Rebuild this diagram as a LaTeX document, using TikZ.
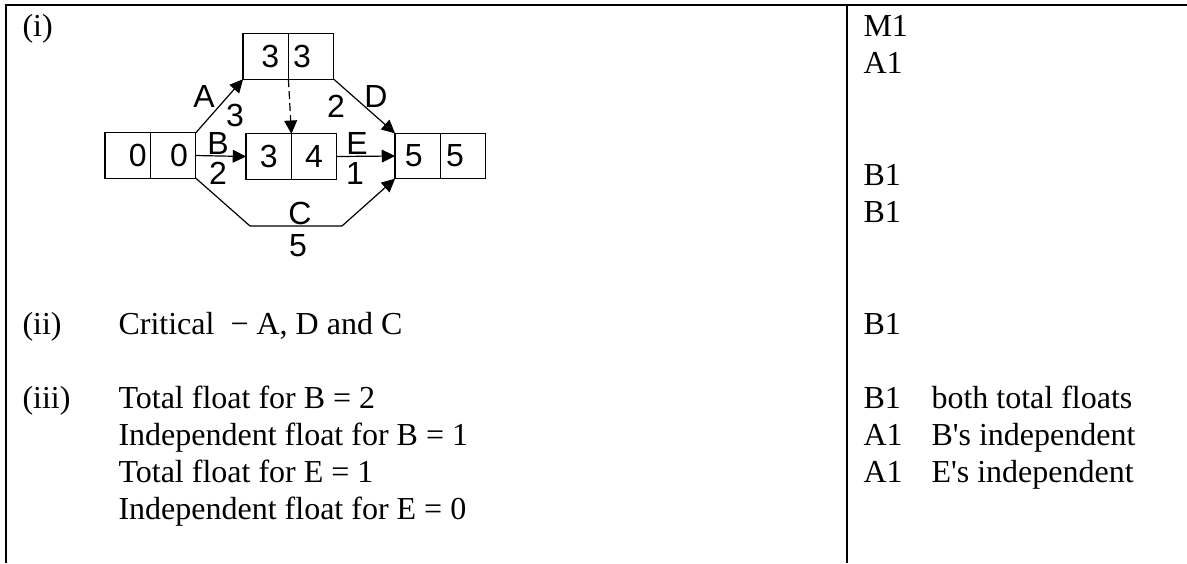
\documentclass[tikz,border=0pt]{standalone}
\usepackage{fontspec}
\setmainfont{Liberation Serif}
\newfontfamily\netfont{Liberation Sans}
\usetikzlibrary{arrows.meta,positioning}

% digit set off-centre in its cell, as in the original
\newcommand{\nudged}[2]{\makebox[0pt]{\hspace{#1}#2}}

\tikzset{
  cell/.style={draw, rectangle, minimum width=17pt, minimum height=17pt, inner sep=0pt, outer sep=0pt, line width=0.45pt, font=\netfont\fontsize{12}{14}\selectfont},
  act/.style={line width=0.45pt, -{Triangle[length=5pt,width=4.8pt]}},
  lbl/.style={inner sep=0pt, font=\netfont\fontsize{12}{14}\selectfont},
  txt/.style={anchor=base west, inner sep=0pt, font=\fontsize{12}{14}\selectfont},
  rule/.style={line width=0.8pt}
}

\begin{document}
\begin{tikzpicture}[x=0.375pt,y=-0.375pt]
  \useasboundingbox (0,0) rectangle (1187,563);

  % table rules
  \draw[rule] (5,5) -- (1187,5);
  \draw[rule] (6,5) -- (6,563);
  \draw[rule] (847,5) -- (847,563);

  % events (earliest | latest)
  \node[cell] (s1) at (127.75,155.5) {\nudged{7.5pt}{0}};
  \node[cell, right=0pt of s1] (s2) {\nudged{4.5pt}{0}};
  \node[cell] (t1) at (265.75,56.5) {\nudged{3.4pt}{3}};
  \node[cell, right=0pt of t1] (t2) {\nudged{-6.8pt}{3}};
  \node[cell] (m1) at (268.75,156.5) {3};
  \node[cell, right=0pt of m1] (m2) {4};
  \node[cell] (f1) at (417.75,156) {\nudged{-3pt}{5}};
  \node[cell, right=0pt of f1] (f2) {\nudged{-6pt}{5}};
  \coordinate (cL) at (250,226);
  \coordinate (cR) at (342,226);

  % activities
  \draw[act] (s2.north east) -- (t1.south west);
  \draw[act] (t2.south east) -- (f1.north west);
  \draw[act, dash pattern=on 3pt off 1.5pt] (t1.south east) -- (m1.north east);
  \draw[act] (s2.east) -- (m1.west);
  \draw[act] (m2.east) -- (f1.west);
  \draw[act] (s2.south east) -- (cL) -- (cR) -- (f1.south west);

  \node[lbl] (labA) at (204,96) {A};
  \node[lbl] (durA) at (235,115) {3};
  \node[lbl] (labD) at (376,96) {D};
  \node[lbl] (durD) at (336,106) {2};
  \node[lbl] (labB) at (218,143) {B};
  \node[lbl] (durB) at (218,173) {2};
  \node[lbl] (labE) at (357,143) {E};
  \node[lbl] (durE) at (355,173) {1};
  \node[lbl] (labC) at (300,213) {C};
  \node[lbl] (durC) at (298,246) {5};

  % answers
  \node[txt] (pi) at (22,36) {(i)};
  \node[txt] (pii) at (22,334) {(ii)};
  \node[txt] (crit) at (118,334) {Critical~~−~A, D and C};
  \node[txt] (piii) at (22,408) {(iii)};
  \node[txt] (tfB) at (118,408) {Total float for B = 2};
  \node[txt] (ifB) at (118,445) {Independent float for B = 1};
  \node[txt] (tfE) at (118,482) {Total float for E = 1};
  \node[txt] (ifE) at (118,519) {Independent float for E = 0};

  % marks
  \node[txt] (mkM) at (863,36) {M1};
  \node[txt] (mkA) at (863,73) {A1};
  \node[txt] (mkB1) at (863,185) {B1};
  \node[txt] (mkB2) at (863,222) {B1};
  \node[txt] (mkB3) at (863,334) {B1};
  \node[txt] (mkB4) at (863,408) {B1};
  \node[txt] (mkA2) at (863,445) {A1};
  \node[txt] (mkA3) at (863,482) {A1};
  \node[txt] (nB4) at (931,408) {both total floats};
  \node[txt] (nA2) at (931,445) {B\textquotesingle s independent};
  \node[txt] (nA3) at (931,482) {E\textquotesingle s independent};
\end{tikzpicture}
\end{document}
